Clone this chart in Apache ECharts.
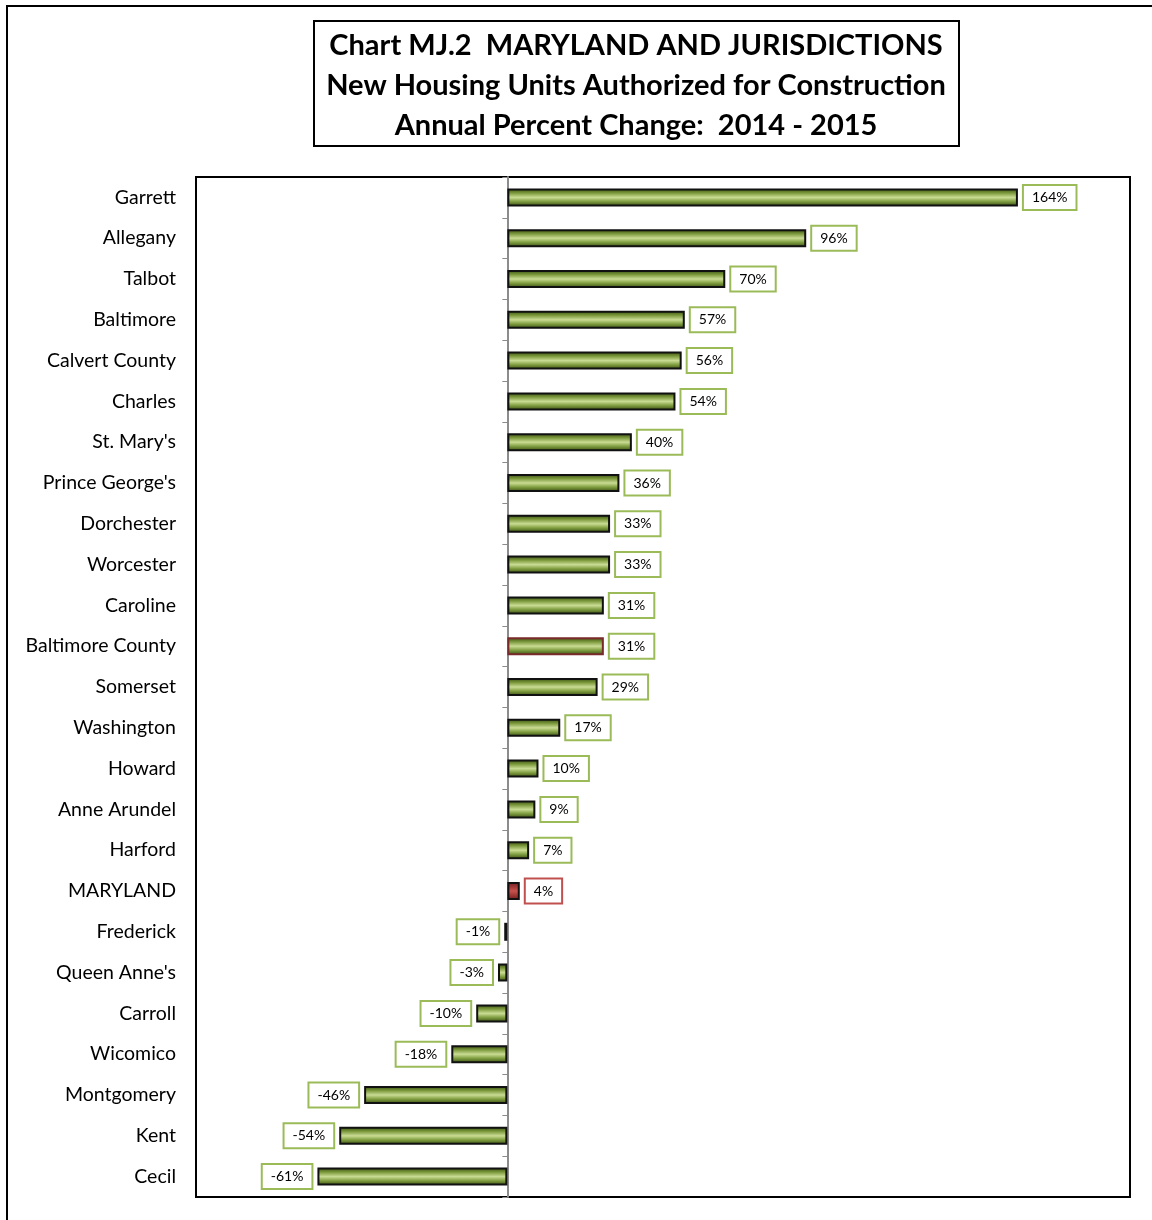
<!DOCTYPE html>
<html>
<head>
<meta charset="utf-8">
<title>Chart MJ.2</title>
<script src="https://cdn.jsdelivr.net/npm/echarts@6/dist/echarts.min.js"></script>
<style>
  html, body { margin: 0; padding: 0; background: #fff; }
  #chart { width: 1152px; height: 1220px; }
</style>
</head>
<body>
<div id="chart"></div>
<script>
// 各辖区名称（自上而下）
const jurisdictions = [
  'Garrett', 'Allegany', 'Talbot', 'Baltimore', 'Calvert County', 'Charles',
  "St. Mary's", "Prince George's", 'Dorchester', 'Worcester', 'Caroline',
  'Baltimore County', 'Somerset', 'Washington', 'Howard', 'Anne Arundel',
  'Harford', 'MARYLAND', 'Frederick', "Queen Anne's", 'Carroll', 'Wicomico',
  'Montgomery', 'Kent', 'Cecil'
];

// 年度百分比变化 2014 - 2015
const pctChange = [
  164, 96, 70, 57, 56, 54, 40, 36, 33, 33, 31, 31, 29, 17, 10, 9, 7, 4,
  -1, -3, -10, -18, -46, -54, -61
];

const titleLines = [
  'Chart MJ.2  MARYLAND AND JURISDICTIONS',
  'New Housing Units Authorized for Construction',
  'Annual Percent Change:  2014 - 2015'
];

const FONT = 'Lato, "Open Sans", sans-serif';

// 绿色立体渐变
const greenFill = new echarts.graphic.LinearGradient(0, 0, 0, 1, [
  { offset: 0, color: '#34490f' },
  { offset: 0.25, color: '#7a973a' },
  { offset: 0.5, color: '#cadc94' },
  { offset: 0.72, color: '#82a042' },
  { offset: 1, color: '#34490f' }
]);
const redFill = new echarts.graphic.LinearGradient(0, 0, 0, 1, [
  { offset: 0, color: '#6e1c1c' },
  { offset: 0.5, color: '#c9514c' },
  { offset: 1, color: '#6e1c1c' }
]);

const barData = pctChange.map((v, i) => {
  const name = jurisdictions[i];
  const isState = name === 'MARYLAND';
  return {
    value: v,
    itemStyle: {
      color: isState ? redFill : greenFill,
      borderColor: name === 'Baltimore County' ? '#7a2a2a' : '#111',
      borderWidth: 2
    },
    label: {
      position: v < 0 ? 'left' : 'right',
      borderColor: isState ? '#c0504d' : '#9bbb59'
    }
  };
});

const chart = echarts.init(document.getElementById('chart'));

chart.setOption({
  backgroundColor: '#fff',
  animation: false,
  graphic: [
    {
      type: 'rect',
      shape: { x: 7, y: 6, width: 1300, height: 1400 },
      style: { fill: 'none', stroke: '#000', lineWidth: 2 },
      silent: true
    },
    {
      type: 'rect',
      shape: { x: 314, y: 21, width: 645, height: 125 },
      style: { fill: '#fff', stroke: '#000', lineWidth: 2 },
      silent: true
    },
    {
      type: 'text',
      x: 636,
      y: 86,
      style: {
        text: titleLines.join('\n'),
        align: 'center',
        verticalAlign: 'middle',
        font: 'bold 29px ' + FONT,
        lineHeight: 40,
        fill: '#000'
      },
      silent: true
    }
  ],
  grid: {
    left: 196,
    right: 22,
    top: 177,
    bottom: 23,
    show: true,
    borderColor: '#000',
    borderWidth: 2,
    backgroundColor: 'transparent'
  },
  xAxis: {
    type: 'value',
    min: -100,
    max: 200,
    axisLine: { show: false },
    axisTick: { show: false },
    axisLabel: { show: false },
    splitLine: { show: false }
  },
  yAxis: [
    {
      type: 'category',
      data: jurisdictions,
      inverse: true,
      position: 'left',
      axisLine: { show: false, onZero: false },
      axisTick: { show: false },
      axisLabel: {
        margin: 20,
        fontFamily: FONT,
        fontSize: 19.5,
        color: '#000'
      }
    },
    {
      type: 'category',
      data: jurisdictions,
      inverse: true,
      position: 'left',
      axisLine: { show: true, onZero: true, lineStyle: { color: '#8c8c8c', width: 2 } },
      axisTick: { show: true, length: 5, lineStyle: { color: '#8c8c8c', width: 1 } },
      axisLabel: { show: false }
    }
  ],
  series: [{
    type: 'bar',
    yAxisIndex: 0,
    data: barData,
    barWidth: 18,
    z: 3,
    label: {
      show: true,
      distance: 6,
      formatter: '{c}%',
      fontFamily: FONT,
      fontSize: 14,
      color: '#000',
      backgroundColor: '#fff',
      borderWidth: 2,
      padding: [5, 8, 4, 8]
    }
  }]
});
</script>
</body>
</html>
